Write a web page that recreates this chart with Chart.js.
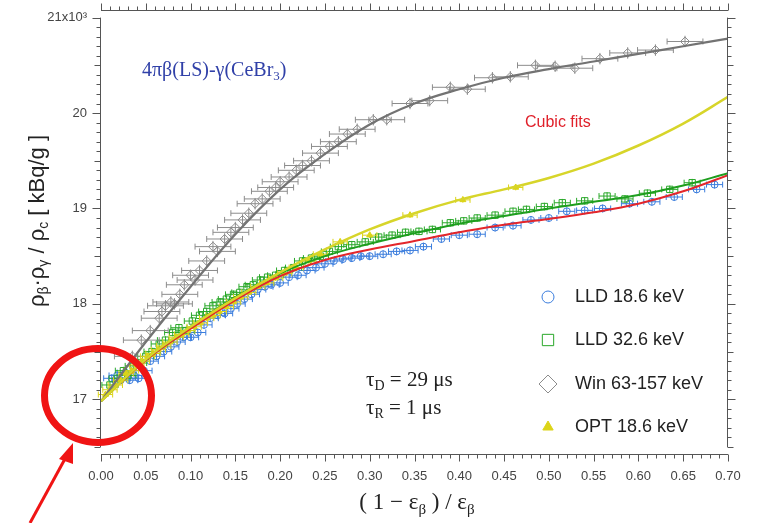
<!DOCTYPE html>
<html>
<head>
<meta charset="utf-8">
<script src="https://cdn.jsdelivr.net/npm/chart.js@4.4.1/dist/chart.umd.min.js"></script>
<style>body{margin:0;background:#fff}</style>
</head>
<body>
<canvas id="chart" width="757" height="523"></canvas>
<script>
//Axis ticks
var xTicks = [0,0.05,0.1,0.15,0.2,0.25,0.3,0.35,0.4,0.45,0.5,0.55,0.6,0.65,0.7];
var yTicks = [17,18,19,20,21];

//LLD 18.6 keV (blue circles)
var lld186X = [0.012,0.018,0.022,0.027,0.032,0.037,0.042,0.048,0.055,0.062,0.07,0.078,0.085,0.092,0.1,0.108,0.115,0.122,0.13,0.138,0.145,0.152,0.16,0.168,0.175,0.183,0.19,0.2,0.21,0.22,0.23,0.24,0.25,0.26,0.27,0.28,0.29,0.3,0.315,0.33,0.345,0.36,0.38,0.4,0.42,0.44,0.46,0.48,0.5,0.52,0.54,0.56,0.59,0.615,0.64,0.665,0.685];
var lld186Y = [17.22,17.25,17.2,17.28,17.2,17.25,17.22,17.3,17.4,17.45,17.5,17.55,17.6,17.65,17.65,17.7,17.78,17.85,17.88,17.9,17.95,18.0,18.05,18.1,18.15,18.18,18.2,18.22,18.28,18.3,18.35,18.38,18.42,18.45,18.47,18.48,18.5,18.5,18.52,18.55,18.56,18.6,18.68,18.72,18.73,18.8,18.82,18.88,18.9,18.97,18.98,19.0,19.05,19.07,19.12,19.2,19.25];

//LLD 32.6 keV (green squares)
var lld326X = [0.01,0.018,0.025,0.03,0.036,0.042,0.05,0.057,0.065,0.072,0.08,0.087,0.095,0.102,0.11,0.118,0.125,0.133,0.14,0.148,0.155,0.163,0.17,0.178,0.186,0.195,0.205,0.215,0.225,0.235,0.245,0.255,0.265,0.28,0.295,0.31,0.325,0.34,0.355,0.37,0.39,0.405,0.42,0.44,0.46,0.475,0.495,0.515,0.54,0.565,0.585,0.61,0.635,0.66];
var lld326Y = [17.15,17.22,17.3,17.25,17.35,17.38,17.45,17.5,17.58,17.62,17.7,17.75,17.72,17.82,17.88,17.92,17.98,18.02,18.05,18.1,18.12,18.18,18.2,18.25,18.28,18.3,18.35,18.38,18.45,18.48,18.5,18.55,18.6,18.62,18.65,18.7,18.72,18.75,18.76,18.78,18.85,18.87,18.9,18.93,18.97,18.99,19.02,19.06,19.08,19.13,19.1,19.16,19.2,19.27];

//Win 63-157 keV (gray diamonds)
var winX = [0.035,0.045,0.055,0.065,0.068,0.072,0.078,0.082,0.088,0.093,0.1,0.105,0.11,0.118,0.125,0.13,0.138,0.145,0.15,0.158,0.165,0.172,0.18,0.188,0.195,0.2,0.21,0.218,0.225,0.235,0.245,0.255,0.265,0.275,0.286,0.304,0.319,0.345,0.367,0.39,0.409,0.437,0.457,0.485,0.507,0.529,0.557,0.588,0.619,0.652];
var winY = [17.45,17.62,17.72,17.85,17.92,17.98,18.02,18.0,18.1,18.2,18.3,18.25,18.35,18.45,18.6,18.55,18.68,18.75,18.8,18.88,18.95,19.05,19.1,19.18,19.22,19.28,19.33,19.4,19.45,19.5,19.58,19.65,19.7,19.78,19.83,19.93,19.93,20.1,20.13,20.27,20.25,20.37,20.38,20.5,20.49,20.47,20.57,20.63,20.66,20.75];

//OPT 18.6 keV (yellow triangles)
var optX = [0.005,0.01,0.016,0.022,0.028,0.034,0.04,0.046,0.052,0.058,0.064,0.07,0.077,0.084,0.09,0.097,0.104,0.111,0.118,0.125,0.132,0.14,0.148,0.156,0.165,0.175,0.185,0.195,0.205,0.218,0.232,0.245,0.267,0.3,0.345,0.404,0.463];
var optY = [17.05,17.1,17.15,17.2,17.27,17.3,17.36,17.4,17.45,17.48,17.52,17.56,17.6,17.65,17.68,17.72,17.76,17.8,17.85,17.88,17.92,17.97,18.02,18.07,18.12,18.18,18.22,18.27,18.32,18.38,18.45,18.52,18.65,18.72,18.93,19.09,19.22];

//Half widths of the error bars (x) and y errors
var xErrLld186 = 0.009, xErrLld326 = 0.009, xErrWin = 0.02, xErrOpt = 0.008;
var yErrLld186 = 0.04, yErrLld326 = 0.04, yErrWin = 0.06, yErrOpt = 0.03;

//Cubic fits
var fitX = [0,0.05,0.1,0.15,0.2,0.25,0.3,0.35,0.4,0.45,0.5,0.55,0.6,0.65,0.7];
var fitWin = [16.98,17.6,18.18,18.73,19.2,19.57,19.88,20.1,20.25,20.37,20.46,20.54,20.62,20.7,20.78];
var fitOpt = [16.98,17.42,17.76,18.06,18.33,18.57,18.78,18.95,19.09,19.2,19.32,19.47,19.66,19.89,20.17];
var fitLld326 = [16.98,17.42,17.76,18.07,18.32,18.5,18.63,18.74,18.84,18.92,19.0,19.07,19.14,19.24,19.37];
var fitLld186 = [16.98,17.41,17.74,18.04,18.29,18.46,18.57,18.66,18.75,18.83,18.89,18.96,19.05,19.18,19.35];

function toPoints(xs, ys){
  var pts = [];
  for(var i = 0; i < xs.length; i++){
    pts.push({x: xs[i], y: ys[i]});
  }
  return pts;
}

//Text with sub/superscripts: parts = [text, size, dy, family]
function richText(ctx, parts, x, y, align){
  var w = 0;
  for(var i = 0; i < parts.length; i++){
    ctx.font = parts[i][1] + 'px ' + parts[i][3];
    w += ctx.measureText(parts[i][0]).width;
  }
  var cx = align == 'center' ? x - w/2 : x;
  ctx.textAlign = 'left';
  for(var i = 0; i < parts.length; i++){
    ctx.font = parts[i][1] + 'px ' + parts[i][3];
    ctx.fillText(parts[i][0], cx, y + parts[i][2]);
    cx += ctx.measureText(parts[i][0]).width;
  }
}

var SANS = '"Liberation Sans", Arial, sans-serif';
var SERIF = '"Liberation Serif", "Times New Roman", serif';

//Error bars, drawn under each dataset
var errorBars = {
  id: 'errorBars',
  beforeDatasetDraw: function(chart, args){
    var ds = chart.data.datasets[args.index];
    if(!ds.xErr) return;
    var ctx = chart.ctx, xs = chart.scales.x, ys = chart.scales.y;
    ctx.save();
    ctx.strokeStyle = ds.borderColor;
    ctx.lineWidth = 1;
    ds.data.forEach(function(p){
      var x1 = xs.getPixelForValue(p.x - ds.xErr);
      var x2 = xs.getPixelForValue(p.x + ds.xErr);
      var xc = xs.getPixelForValue(p.x);
      var yc = ys.getPixelForValue(p.y);
      var y1 = ys.getPixelForValue(p.y - ds.yErr);
      var y2 = ys.getPixelForValue(p.y + ds.yErr);
      ctx.beginPath();
      ctx.moveTo(x1, yc); ctx.lineTo(x2, yc);
      ctx.moveTo(x1, yc-3); ctx.lineTo(x1, yc+3);
      ctx.moveTo(x2, yc-3); ctx.lineTo(x2, yc+3);
      ctx.moveTo(xc, y1); ctx.lineTo(xc, y2);
      ctx.stroke();
    });
    ctx.restore();
  }
};

//Frame with minor ticks, labels, legend and the red marks
var frame = {
  id: 'frame',
  afterDraw: function(chart){
    var ctx = chart.ctx, a = chart.chartArea;
    var xs = chart.scales.x, ys = chart.scales.y;
    var yTop = ys.getPixelForValue(21);
    var xL = xs.getPixelForValue(0), xR = xs.getPixelForValue(0.7);
    var bottomY = 454.5;
    ctx.save();
    ctx.strokeStyle = '#555';
    ctx.lineWidth = 1;
    ctx.beginPath();
    //axis lines
    ctx.moveTo(100.5, yTop); ctx.lineTo(100.5, a.bottom);
    ctx.moveTo(xR - 0.5, yTop); ctx.lineTo(xR - 0.5, a.bottom);
    ctx.moveTo(xL, bottomY); ctx.lineTo(xR, bottomY);
    ctx.moveTo(xL, a.top + 0.5); ctx.lineTo(xR, a.top + 0.5);
    //x ticks
    for(var i = 0; i <= 70; i++){
      var px = Math.round(xs.getPixelForValue(i/100)) + 0.5;
      var len = (i % 5 == 0) ? 7 : 4;
      ctx.moveTo(px, bottomY); ctx.lineTo(px, bottomY + len);
      ctx.moveTo(px, a.top + 0.5); ctx.lineTo(px, a.top + 0.5 - len);
    }
    //y ticks
    for(var j = 165; j <= 210; j++){
      var py = Math.round(ys.getPixelForValue(j/10)) + 0.5;
      var ylen = (j % 10 == 0) ? 8 : ((j % 5 == 0) ? 6 : 4);
      ctx.moveTo(100.5, py); ctx.lineTo(100.5 - ylen, py);
      ctx.moveTo(xR - 0.5, py); ctx.lineTo(xR - 0.5 + ylen, py);
    }
    ctx.stroke();

    ctx.textBaseline = 'alphabetic';
    //y axis title
    ctx.save();
    ctx.translate(44, 221);
    ctx.rotate(-Math.PI/2);
    ctx.fillStyle = '#222';
    richText(ctx, [['ρ',22,0,SANS],['β',14,4,SANS],['·',22,0,SANS],['ρ',22,0,SANS],['γ',14,4,SANS],[' / ',22,0,SANS],['ρ',22,0,SANS],['c',14,4,SANS],[' [ kBq/g ]',22,0,SANS]], 0, 0, 'center');
    ctx.restore();

    //x axis title
    ctx.fillStyle = '#222';
    richText(ctx, [['( 1 − ε',23,0,SERIF],['β',15,5,SERIF],[' ) / ε',23,0,SERIF],['β',15,5,SERIF]], 417, 509, 'center');

    //annotations
    ctx.fillStyle = '#3040a8';
    richText(ctx, [['4πβ(LS)-γ(CeBr',20,0,SERIF],['3',13,4,SERIF],[')',20,0,SERIF]], 142, 76, 'left');
    ctx.fillStyle = '#e0202a';
    richText(ctx, [['Cubic fits',16,0,SANS]], 525, 127, 'left');
    ctx.fillStyle = '#222';
    richText(ctx, [['τ',21,0,SERIF],['D',14,4,SERIF],[' = 29 μs',21,0,SERIF]], 366, 386, 'left');
    richText(ctx, [['τ',21,0,SERIF],['R',14,4,SERIF],[' = 1 μs',21,0,SERIF]], 366, 414, 'left');

    //legend
    var rows = [297, 340, 384, 427];
    var legendDs = [0, 1, 2, 3];
    var legendR = [6, 8, 9, 6];
    for(var k = 0; k < legendDs.length; k++){
      var ds = chart.data.datasets[legendDs[k]];
      ctx.strokeStyle = ds.borderColor;
      ctx.fillStyle = ds.backgroundColor;
      ctx.lineWidth = 1;
      Chart.helpers.drawPoint(ctx, {pointStyle: ds.pointStyle, radius: legendR[k], borderWidth: 1, rotation: 0}, 548, rows[k]);
      ctx.fillStyle = '#222';
      ctx.font = '18px ' + SANS;
      ctx.textBaseline = 'middle';
      ctx.fillText(ds.label, 575, rows[k]);
    }

    //red circle and arrow
    ctx.strokeStyle = '#f01414';
    ctx.lineWidth = 7;
    ctx.beginPath();
    ctx.ellipse(98, 395.5, 53.5, 47, 0, 0, Math.PI*2);
    ctx.stroke();
    ctx.lineWidth = 3;
    ctx.beginPath();
    ctx.moveTo(30, 523);
    ctx.lineTo(66, 457);
    ctx.stroke();
    ctx.fillStyle = '#f01414';
    ctx.beginPath();
    ctx.moveTo(73, 443);
    ctx.lineTo(59, 459);
    ctx.lineTo(73, 464);
    ctx.closePath();
    ctx.fill();
    ctx.restore();
  }
};

function scatterSet(label, xs, ys, color, fill, style, radius, xErr, yErr, order){
  return {
    type: 'scatter', label: label, data: toPoints(xs, ys),
    borderColor: color, backgroundColor: fill, pointStyle: style,
    pointRadius: radius, pointBorderWidth: 1, xErr: xErr, yErr: yErr, order: order
  };
}

function fitSet(ys, color, width, order){
  return {
    type: 'line', label: '', data: toPoints(fitX, ys),
    borderColor: color, borderWidth: width, pointRadius: 0,
    tension: 0.4, fill: false, order: order
  };
}

Chart.defaults.font.family = SANS;

var ctxC = document.getElementById('chart').getContext('2d');
var myChart = new Chart(ctxC, {
  type: 'scatter',
  data: {
    datasets: [
      scatterSet('LLD 18.6 keV', lld186X, lld186Y, '#3b7ddd', 'rgba(0,0,0,0)', 'circle', 3.5, xErrLld186, yErrLld186, 10),
      scatterSet('LLD 32.6 keV', lld326X, lld326Y, '#2aa82a', 'rgba(0,0,0,0)', 'rect', 4.5, xErrLld326, yErrLld326, 9),
      scatterSet('Win 63-157 keV', winX, winY, '#8c8c8c', 'rgba(0,0,0,0)', 'rectRot', 4.5, xErrWin, yErrWin, 8),
      scatterSet('OPT 18.6 keV', optX, optY, '#dcd418', '#dcd418', 'triangle', 3.5, xErrOpt, yErrOpt, 7),
      fitSet(fitWin, '#737373', 2.2, 4),
      fitSet(fitLld186, '#e3262b', 2, 3),
      fitSet(fitLld326, '#1e9e1e', 2, 2),
      fitSet(fitOpt, '#d7d52a', 2.5, 1)
    ]
  },
  options: {
    responsive: false,
    animation: false,
    layout: {padding: {top: 10, right: 29, left: 0, bottom: 0}},
    plugins: {legend: {display: false}, tooltip: {enabled: false}},
    scales: {
      x: {
        type: 'linear', min: 0, max: 0.7,
        grid: {display: false, drawTicks: false},
        border: {display: false},
        afterBuildTicks: function(s){ s.ticks = xTicks.map(function(v){ return {value: v}; }); },
        afterFit: function(s){ s.height = 76; s.paddingLeft = 0; s.paddingRight = 0; },
        ticks: {
          color: '#444', font: {size: 13}, padding: 22, maxRotation: 0, autoSkip: false,
          callback: function(v){ return v.toFixed(2); }
        }
      },
      y: {
        type: 'linear', min: 16.5, max: 21.08,
        grid: {display: false, drawTicks: false},
        border: {display: false},
        afterBuildTicks: function(s){ s.ticks = yTicks.map(function(v){ return {value: v}; }); },
        afterFit: function(s){ s.width = 101; s.paddingTop = 0; s.paddingBottom = 0; },
        ticks: {
          color: '#444', font: {size: 13}, padding: 14,
          callback: function(v){ return v == 21 ? '21x10³' : String(v); }
        }
      }
    }
  },
  plugins: [errorBars, frame]
});
</script>
</body>
</html>
